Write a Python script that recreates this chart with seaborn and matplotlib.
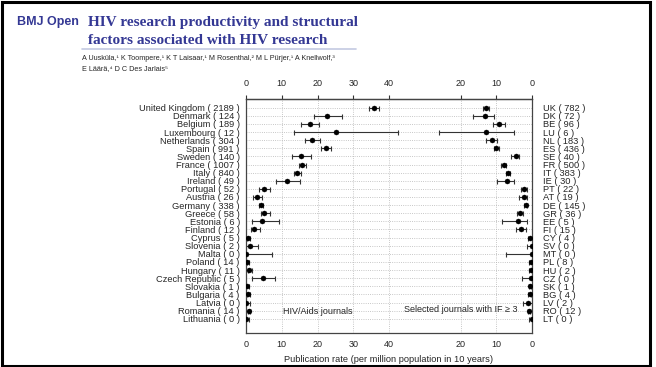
import numpy as np
import pandas as pd
import matplotlib.pyplot as plt
import seaborn as sns
from matplotlib.patches import Rectangle

# Data
countries = ["United Kingdom", "Denmark", "Belgium", "Luxembourg", "Netherlands", "Spain",
             "Sweden", "France", "Italy", "Ireland", "Portugal", "Austria", "Germany", "Greece",
             "Estonia", "Finland", "Cyprus", "Slovenia", "Malta", "Poland", "Hungary",
             "Czech Republic", "Slovakia", "Bulgaria", "Latvia", "Romania", "Lithuania"]
hiv_n = [2189, 124, 189, 12, 304, 991, 140, 1007, 840, 49, 52, 26, 338, 58, 6, 12,
         5, 2, 0, 14, 11, 5, 1, 4, 0, 14, 0]
hiv_rate = [35.9, 22.7, 17.8, 25.1, 18.5, 22.4, 15.4, 15.8, 14.3, 11.5, 5.0, 3.2, 4.1, 5.1,
            4.5, 2.1, 0.6, 1.1, 0.0, 0.4, 0.9, 4.7, 0.4, 0.6, 0.0, 0.7, 0.0]
hiv_lo = [34.5, 18.9, 15.3, 13.5, 16.4, 21.0, 12.8, 14.8, 13.3, 8.5, 3.6, 2.0, 3.5, 4.1,
          1.8, 1.3, 0.2, 0.0, 0.0, 0.2, 0.6, 1.8, 0.1, 0.3, 0.0, 0.5, 0.0]
hiv_hi = [37.3, 26.9, 20.5, 42.6, 20.7, 23.8, 18.1, 16.7, 15.3, 15.1, 6.6, 4.6, 4.7, 6.7,
          9.3, 3.9, 1.0, 3.4, 7.3, 0.7, 1.7, 8.1, 0.8, 1.0, 1.1, 1.0, 0.8]

codes = ["UK", "DK", "BE", "LU", "NL", "ES", "SE", "FR", "IT", "IE", "PT", "AT", "DE", "GR",
         "EE", "FI", "CY", "SV", "MT", "PL", "HU", "CZ", "SK", "BG", "LV", "RO", "LT"]
if_n = [782, 72, 96, 6, 183, 436, 40, 500, 383, 30, 22, 19, 145, 36, 5, 15,
        4, 0, 0, 8, 2, 0, 1, 4, 2, 12, 0]
if_rate = [12.8, 13.1, 9.1, 12.8, 11.3, 10.0, 4.5, 7.9, 6.7, 7.1, 2.2, 2.3, 1.8, 3.4,
           3.9, 3.0, 0.6, 0.1, 0.0, 0.4, 0.3, 0.2, 0.5, 0.6, 1.1, 0.7, 0.0]
if_lo = [11.9, 10.5, 7.5, 5.1, 9.7, 9.2, 3.6, 7.2, 6.1, 5.0, 1.5, 1.5, 1.4, 2.4,
         1.5, 1.6, 0.1, 0.0, 0.0, 0.1, 0.0, 0.0, 0.2, 0.3, 0.1, 0.5, 0.0]
if_hi = [13.8, 16.6, 10.9, 26.0, 13.0, 10.7, 6.0, 8.6, 7.4, 9.9, 3.2, 3.6, 2.2, 4.3,
         8.3, 4.6, 1.0, 1.5, 7.4, 0.8, 0.7, 2.7, 0.9, 1.1, 2.6, 1.0, 0.7]

tick_vals = [0, 10, 20, 30, 40]
mirror = 80  # right panel is drawn reversed, its zero sits at 80

rows = np.arange(len(countries))
left = pd.DataFrame({"x": hiv_rate, "lo": hiv_lo, "hi": hiv_hi, "row": rows})
right = pd.DataFrame({"x": mirror - np.array(if_rate), "lo": mirror - np.array(if_hi),
                      "hi": mirror - np.array(if_lo), "row": rows})
df = pd.concat([left, right], ignore_index=True)

sns.set_style("white")
plt.rcParams["font.family"] = ["Liberation Sans", "DejaVu Sans"]

fig = plt.figure(figsize=(6.56, 3.67), dpi=100)
ax = fig.add_axes([246 / 656, 1 - 332.7 / 367, (532 - 246) / 656, (332.7 - 99) / 367])

# dotted grid
for r in rows:
    ax.axhline(r, color="#b5b5b5", ls=":", lw=0.6, zorder=0)
for g in [10, 20, 30, 40, 60, 70]:
    ax.axvline(g, color="#b5b5b5", ls=":", lw=0.6, zorder=0)

ax.errorbar(df["x"], df["row"], xerr=[df["x"] - df["lo"], df["hi"] - df["x"]],
            fmt="none", ecolor="#333333", elinewidth=0.8, capsize=1.8, capthick=0.8, zorder=2)
sns.scatterplot(data=df, x="x", y="row", color="black", s=13, edgecolor="black",
                linewidth=0.3, ax=ax, zorder=3)

ax.set_xlim(0, 80)
ax.set_ylim(len(countries) - 1 + 1.72, -1.07)

xt = tick_vals + [mirror - v for v in [20, 10, 0]]
xl = [str(v) for v in tick_vals] + ["20", "10", "0"]
ax.set_xticks(xt)
ax.set_xticklabels(xl, fontsize=6.5)
ax.tick_params(axis="x", direction="inout", length=5, width=0.8, color="#333333", pad=3)

ax.set_yticks(rows)
ax.set_yticklabels([f"{c} ( {n} )" for c, n in zip(countries, hiv_n)], fontsize=6.7)
ax.tick_params(axis="y", length=0, pad=4.5)

top = ax.secondary_xaxis("top")
top.set_xticks(xt)
top.set_xticklabels(xl, fontsize=6.5)
top.tick_params(direction="out", length=3, width=0.8, color="#333333", pad=5)
top.spines["top"].set_color("#444444")
top.spines["top"].set_linewidth(0.9)

ax2 = ax.twinx()
ax2.set_ylim(ax.get_ylim())
ax2.set_yticks(rows)
ax2.set_yticklabels([f"{c} ( {n} )" for c, n in zip(codes, if_n)], fontsize=6.7)
ax2.tick_params(axis="y", length=0, pad=8)
for s in ax2.spines.values():
    s.set_visible(False)

for s in ax.spines.values():
    s.set_color("#444444")
    s.set_linewidth(0.9)

ax.set_xlabel("Publication rate (per million population in 10 years)", fontsize=6.7, labelpad=4)
ax.set_ylabel("")
ax.text(10.3, 25.1, "HIV/Aids journals", fontsize=6.5, va="center", ha="left")
ax.text(44.2, 24.9, "Selected journals with IF \u2265 3", fontsize=6.5, va="center", ha="left")

# page header
blue = "#343894"
fig.text(17 / 656, 1 - 24.5 / 367, "BMJ Open", fontsize=9, fontweight="bold", color=blue,
         va="baseline")
fig.text(88 / 656, 1 - 26 / 367, "HIV research productivity and structural",
         family="Liberation Serif", fontsize=11, fontweight="bold", color=blue, va="baseline")
fig.text(88 / 656, 1 - 44 / 367, "factors associated with HIV research",
         family="Liberation Serif", fontsize=11, fontweight="bold", color=blue, va="baseline")
fig.add_artist(plt.Line2D([82 / 656, 356 / 656], [1 - 49 / 367, 1 - 49 / 367],
                          color="#c3cae2", lw=1.2))
fig.text(82 / 656, 1 - 60.5 / 367,
         "A Uusküla,\u00b9 K Toompere,\u00b9 K T Laisaar,\u00b9 M Rosenthal,\u00b2 "
         "M L Pürjer,\u00b9 A Knellwolf,\u00b3",
         fontsize=5.2, va="baseline")
fig.text(82 / 656, 1 - 70.5 / 367, "E Läärä,\u2074 D C Des Jarlais\u2075",
         fontsize=5.2, va="baseline")

fig.patches.append(Rectangle((1.5 / 656, 1.5 / 367), 648.5 / 656, 364 / 367,
                             transform=fig.transFigure, fill=False, ec="black", lw=2.2))

fig.savefig("out.png", dpi=100)
